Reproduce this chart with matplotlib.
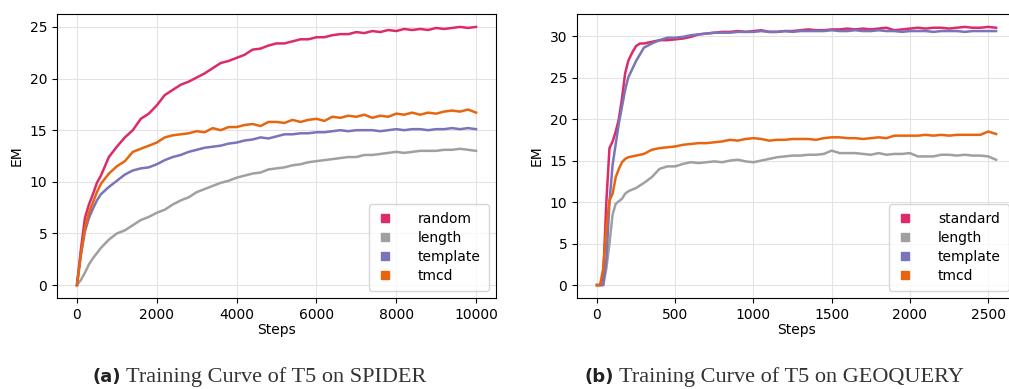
import matplotlib.pyplot as plt

# SPIDER panel
spider_steps = [0, 100, 200, 300, 400, 500, 600] + list(range(800, 10001, 200))
spider_random = [0, 3.5, 6.5, 7.8, 8.8, 9.9, 10.6, 12.4, 13.4, 14.3, 15.0, 16.1, 16.6, 17.4, 18.4, 18.9,
                 19.4, 19.7, 20.1, 20.5, 21.0, 21.5, 21.7, 22.0, 22.3, 22.8, 22.9, 23.2, 23.4, 23.4, 23.6,
                 23.8, 23.8, 24.0, 24.0, 24.2, 24.3, 24.3, 24.5, 24.4, 24.6, 24.5, 24.7, 24.6, 24.8, 24.7,
                 24.8, 24.7, 24.9, 24.8, 24.9, 25.0, 24.9, 25.0]
spider_length = [0, 0.5, 1.2, 2.0, 2.6, 3.1, 3.6, 4.4, 5.0, 5.3, 5.8, 6.3, 6.6, 7.0, 7.3, 7.8, 8.2, 8.5,
                 9.0, 9.3, 9.6, 9.9, 10.1, 10.4, 10.6, 10.8, 10.9, 11.2, 11.3, 11.4, 11.6, 11.7, 11.9,
                 12.0, 12.1, 12.2, 12.3, 12.4, 12.4, 12.6, 12.6, 12.7, 12.8, 12.9, 12.8, 12.9, 13.0, 13.0,
                 13.0, 13.1, 13.1, 13.2, 13.1, 13.0]
spider_template = [0, 3.0, 5.2, 6.5, 7.4, 8.2, 8.8, 9.5, 10.1, 10.7, 11.1, 11.3, 11.4, 11.7, 12.1, 12.4,
                   12.6, 12.9, 13.1, 13.3, 13.4, 13.5, 13.7, 13.8, 14.0, 14.1, 14.3, 14.2, 14.4, 14.6, 14.6,
                   14.7, 14.7, 14.8, 14.8, 14.9, 15.0, 14.9, 15.0, 15.0, 15.0, 14.9, 15.0, 15.1, 15.0, 15.1,
                   15.1, 15.0, 15.1, 15.1, 15.2, 15.1, 15.2, 15.1]
spider_tmcd = [0, 3.0, 5.5, 7.0, 8.0, 9.0, 9.8, 10.8, 11.5, 12.0, 12.9, 13.2, 13.5, 13.8, 14.3, 14.5,
               14.6, 14.7, 14.9, 14.8, 15.2, 15.0, 15.3, 15.3, 15.5, 15.6, 15.4, 15.8, 15.8, 15.7, 16.0,
               15.8, 16.0, 16.1, 15.9, 16.3, 16.2, 16.4, 16.3, 16.5, 16.2, 16.4, 16.3, 16.6, 16.5, 16.7,
               16.5, 16.7, 16.6, 16.8, 16.9, 16.8, 17.0, 16.7]

# GEOQUERY panel
geo_steps = [0, 20, 40, 60, 80, 100, 120, 140, 160, 180, 200, 225, 250, 275, 300, 350, 400, 450, 500] \
    + list(range(550, 2551, 50))
geo_standard = [0, 0, 1, 10, 16.5, 17.3, 18.5, 20, 22.5, 25.5, 27, 28, 28.8, 29.1, 29.1, 29.3, 29.5,
                29.5, 29.6, 29.7, 29.9, 30.2, 30.3, 30.4, 30.5, 30.5, 30.6, 30.5, 30.6, 30.7, 30.5, 30.5,
                30.6, 30.6, 30.7, 30.8, 30.7, 30.7, 30.8, 30.8, 30.9, 30.8, 30.9, 30.8, 30.9, 31.0, 30.7,
                30.8, 30.9, 31.0, 30.9, 31.0, 31.0, 30.9, 31.0, 31.1, 31.0, 31.0, 31.1, 31.0]
geo_length = [0, 0, 0, 2, 5, 8.5, 9.8, 10.1, 10.4, 11.0, 11.3, 11.5, 11.7, 12.0, 12.3, 13.0, 14.0, 14.3,
              14.3, 14.6, 14.8, 14.7, 14.8, 14.9, 14.8, 15.0, 15.1, 14.9, 14.8, 15.0, 15.2, 15.4, 15.5,
              15.6, 15.6, 15.7, 15.7, 15.8, 16.2, 15.9, 15.9, 15.9, 15.8, 15.7, 15.9, 15.7, 15.8, 15.8,
              15.9, 15.5, 15.5, 15.5, 15.7, 15.7, 15.6, 15.7, 15.6, 15.6, 15.5, 15.1]
geo_template = [0, 0, 0, 3, 10, 14.5, 17, 19.5, 21.5, 23.5, 25, 26, 27, 27.8, 28.6, 29.1, 29.5, 29.8,
                29.8, 29.9, 30.1, 30.2, 30.3, 30.4, 30.4, 30.4, 30.5, 30.5, 30.5, 30.6, 30.5, 30.5, 30.6,
                30.5, 30.6, 30.6, 30.6, 30.6, 30.7, 30.6, 30.6, 30.7, 30.6, 30.6, 30.7, 30.6, 30.6, 30.5,
                30.6, 30.6, 30.6, 30.5, 30.6, 30.6, 30.6, 30.5, 30.6, 30.6, 30.6, 30.6]
geo_tmcd = [0, 0, 2, 7, 10.2, 11, 13, 14, 14.8, 15.2, 15.4, 15.5, 15.6, 15.7, 15.8, 16.3, 16.5, 16.6,
            16.7, 16.9, 17.0, 17.1, 17.1, 17.2, 17.3, 17.5, 17.4, 17.6, 17.7, 17.6, 17.4, 17.5, 17.5,
            17.6, 17.6, 17.6, 17.5, 17.7, 17.8, 17.8, 17.7, 17.7, 17.6, 17.7, 17.8, 17.7, 18.0, 18.0,
            18.0, 18.0, 18.1, 18.0, 18.1, 18.0, 18.1, 18.1, 18.1, 18.1, 18.5, 18.2]

colors = {'pink': '#dc2a6a', 'gray': '#a0a0a0', 'purple': '#7a74b8', 'orange': '#e8650f'}

fig = plt.figure(figsize=(10.09, 3.89), dpi=100)
ax1 = fig.add_axes([57 / 1009, 1 - 298 / 389, 439 / 1009, 284 / 389])
ax2 = fig.add_axes([577 / 1009, 1 - 298 / 389, 439 / 1009, 284 / 389])

panels = [
    (ax1, spider_steps, [('random', spider_random, 'pink'), ('length', spider_length, 'gray'),
                         ('template', spider_template, 'purple'), ('tmcd', spider_tmcd, 'orange')]),
    (ax2, geo_steps, [('standard', geo_standard, 'pink'), ('length', geo_length, 'gray'),
                      ('template', geo_template, 'purple'), ('tmcd', geo_tmcd, 'orange')]),
]
for ax, steps, series in panels:
    for label, values, c in series:
        ax.plot(steps, values, color=colors[c], lw=1.8, label=label)
    ax.grid(True, color='#e3e3e3', lw=0.8)
    ax.set_axisbelow(True)
    ax.set_xlabel('Steps', fontsize=10, labelpad=1)
    ax.set_ylabel('EM', fontsize=10)
    ax.tick_params(labelsize=10)
    handles = [plt.Line2D([], [], ls='', marker='s', markersize=6, color=colors[c]) for _, _, c in series]
    ax.legend(handles, [s[0] for s in series], loc='lower right', fontsize=10,
              handletextpad=1.9, labelspacing=0.35, borderpad=0.6, handlelength=1.0)

ax1.set_yticks([0, 5, 10, 15, 20, 25])
ax1.set_xticks([0, 2000, 4000, 6000, 8000, 10000])
ax2.set_yticks([0, 5, 10, 15, 20, 25, 30])
ax2.set_xticks([0, 500, 1000, 1500, 2000, 2500])

# Sub-captions: bold tag followed by the serif caption.
renderer = fig.canvas.get_renderer()
for x0, tag, txt in [(92, '(a)', 'Training Curve of T5 on SPIDER'),
                     (585, '(b)', 'Training Curve of T5 on GEOQUERY')]:
    t = fig.text(x0 / 1009, 1 - 377 / 389, tag, fontsize=13, fontweight='bold',
                 family='DejaVu Sans', va='center', ha='left', color='#222222')
    x1 = t.get_window_extent(renderer=renderer).x1
    fig.text(x1 / fig.bbox.width + 5 / 1009, 1 - 377 / 389, txt, fontsize=16,
             family='Liberation Serif', va='center', ha='left', color='#333333')

fig.savefig('out.png', dpi=100)
